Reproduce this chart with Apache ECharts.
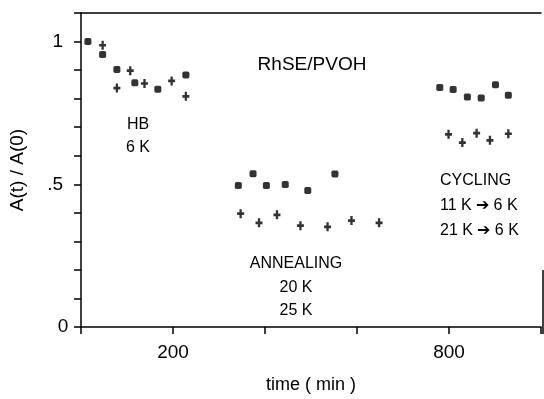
<!DOCTYPE html>
<html>
<head>
<meta charset="utf-8">
<script src="https://cdn.jsdelivr.net/npm/echarts@6/dist/echarts.min.js"></script>
<style>
html, body { margin: 0; padding: 0; background: #fff; }
#Chart { width: 544px; height: 399px; }
</style>
</head>
<body>
<div id="Chart"></div>
<script>
// time in min, A(t)/A(0)
var squareTime = [15, 47, 78, 117, 167, 228, 342, 374, 403, 444, 493, 552, 780, 809, 840, 870, 901, 929];
var squareValue = [1.0, 0.955, 0.902, 0.856, 0.833, 0.883, 0.496, 0.537, 0.496, 0.499, 0.478, 0.536, 0.839, 0.832, 0.806, 0.802, 0.849, 0.812];

var crossTime = [47, 78, 107, 138, 197, 228, 347, 387, 426, 477, 536, 588, 648, 799, 829, 860, 889, 929];
var crossValue = [0.987, 0.837, 0.898, 0.853, 0.862, 0.808, 0.397, 0.365, 0.393, 0.355, 0.351, 0.373, 0.365, 0.675, 0.646, 0.679, 0.654, 0.677];

var xTickLabels = { 200: '200', 800: '800' };
var yTickLabels = { 0: '0', 5: '.5', 10: '1' };

function pairs(xs, ys) {
    var out = [];
    for (var i = 0; i < xs.length; i++) out.push([xs[i], ys[i]]);
    return out;
}

var FONT = '"Liberation Sans", Arial, sans-serif';
var INK = '#000';
var crossPath = 'path://M-1,-4L1,-4L1,-1.2L3,-1.2L3,1.2L1,1.2L1,4L-1,4L-1,1.2L-3,1.2L-3,-1.2L-1,-1.2Z';

function note(text, x, y, align, size) {
    return {
        type: 'text', x: x, y: y,
        style: { text: text, font: (size || 16) + 'px ' + FONT, fill: INK, align: align || 'center', verticalAlign: 'middle' }
    };
}

var Chart = echarts.init(document.getElementById('Chart'));

var option = {
    animation: false,
    backgroundColor: '#fff',
    grid: { left: 81, right: 1, top: 13, bottom: 66 },
    xAxis: [{
        type: 'value',
        min: 0, max: 1000, interval: 200,
        name: 'time ( min )',
        nameLocation: 'middle',
        nameGap: 49,
        nameTextStyle: { fontFamily: FONT, fontSize: 18, color: INK },
        axisLine: { lineStyle: { color: INK, width: 1.5 } },
        axisTick: { inside: false, length: 7, lineStyle: { color: INK, width: 1.5 } },
        axisLabel: {
            margin: 16, fontFamily: FONT, fontSize: 19, color: INK,
            formatter: function (v) { return xTickLabels[Math.round(v)] || ''; }
        },
        splitLine: { show: false }
    }, {
        type: 'value', position: 'top',
        min: 0, max: 1000,
        axisLine: { show: true, lineStyle: { color: INK, width: 1.5 } },
        axisTick: { show: false },
        axisLabel: { show: false },
        splitLine: { show: false }
    }],
    yAxis: {
        type: 'value',
        min: 0, max: 1.1, interval: 0.1,
        name: 'A(t) / A(0)',
        nameLocation: 'middle',
        nameRotate: 90,
        nameGap: 54,
        nameTextStyle: { fontFamily: FONT, fontSize: 19, color: INK },
        axisLine: { show: true, lineStyle: { color: INK, width: 1.5 } },
        axisTick: { inside: false, length: 7, lineStyle: { color: INK, width: 1.5 } },
        axisLabel: {
            margin: 18, fontFamily: FONT, fontSize: 19, color: INK,
            verticalAlign: 'middle',
            alignMinLabel: 'center',
            alignMaxLabel: 'center',
            formatter: function (v) { return yTickLabels[Math.round(v * 10)] || ''; }
        },
        splitLine: { show: false }
    },
    graphic: [
        note('RhSE/PVOH', 312, 65, 'center', 19),
        note('HB', 138, 125),
        note('6 K', 138, 148),
        note('ANNEALING', 296, 264),
        note('20 K', 296, 288),
        note('25 K', 296, 311),
        note('CYCLING', 440, 181, 'left'),
        note('11 K \u2794 6 K', 440, 206, 'left'),
        note('21 K \u2794 6 K', 440, 231, 'left'),
        // partial right frame edge
        { type: 'line', shape: { x1: 543, y1: 270, x2: 543, y2: 334 }, style: { stroke: INK, lineWidth: 1.5 } }
    ],
    series: [{
        type: 'scatter',
        data: pairs(squareTime, squareValue),
        symbol: 'roundRect',
        symbolSize: [7, 7],
        itemStyle: { color: INK }
    }, {
        type: 'scatter',
        data: pairs(crossTime, crossValue),
        symbol: crossPath,
        symbolSize: [7, 9],
        itemStyle: { color: INK }
    }]
};

Chart.setOption(option);

window.addEventListener('resize', function () {
    Chart.resize();
});
</script>
</body>
</html>
